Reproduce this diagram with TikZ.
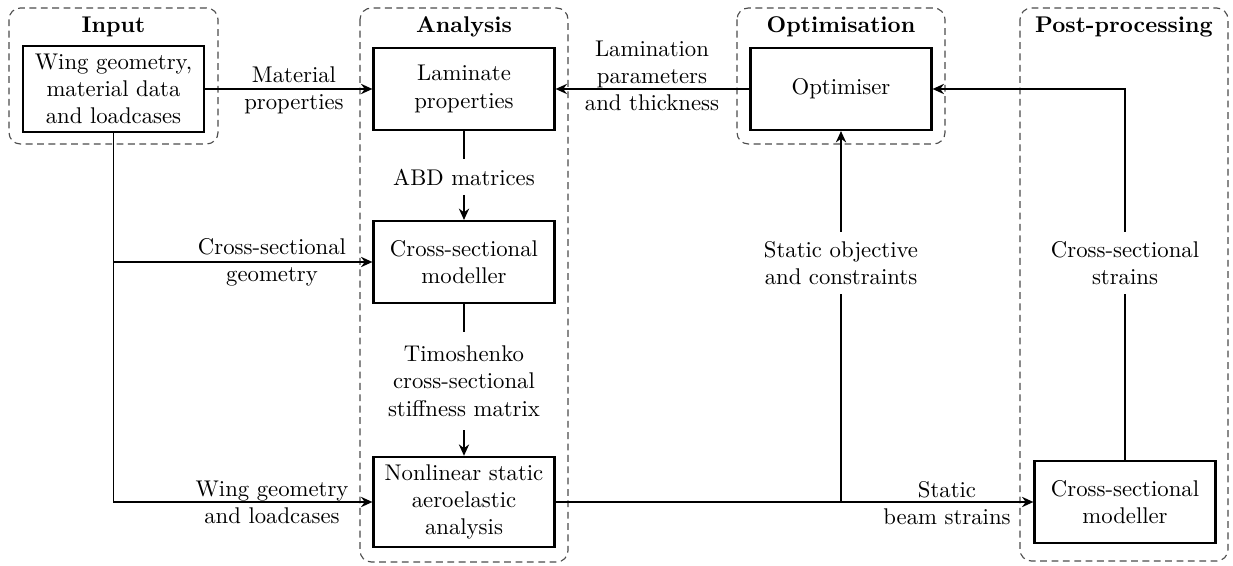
\documentclass[tikz,border=0pt]{standalone}
\usetikzlibrary{arrows.meta}

\tikzset{
  block/.style={draw, line width=1pt, align=center, minimum width=79.6pt, minimum height=36pt},
  group/.style={draw=black!70, line width=0.5pt, dash pattern=on 3pt off 2pt, rounded corners=5pt},
  grouptitle/.style={font=\bfseries},
  lbl/.style={align=center, fill=white, inner ysep=4pt},
  flow/.style={thick, -{Stealth[length=5pt,width=4.5pt]}},
  wire/.style={thick},
}

\begin{document}
\begin{tikzpicture}[x=0.44pt, y=-0.44pt]
\useasboundingbox (0,0) rectangle (1233,566);

% groups
\draw[group] (9,8) rectangle (218,144);
\draw[group] (360,8) rectangle (568,562);
\draw[group] (737,8) rectangle (945,144);
\draw[group] (1020,8) rectangle (1228,561);

\node[grouptitle] (tinput) at (113.5,27) {Input};
\node[grouptitle] (tanalysis) at (464,27) {Analysis};
\node[grouptitle] (toptim) at (841,27) {Optimisation};
\node[grouptitle] (tpost) at (1124,27) {Post-processing};

% blocks
\node[block] (input) at (113.5,89) {Wing geometry,\\material data\\and loadcases};
\node[block] (laminate) at (464,89) {Laminate\\properties};
\node[block] (csmodel) at (464,262) {Cross-sectional\\modeller};
\node[block] (nonlin) at (464,502) {Nonlinear static\\aeroelastic\\analysis};
\node[block] (optimiser) at (841,89) {Optimiser};
\node[block] (cspost) at (1125,502) {Cross-sectional\\modeller};

% labels
\node[lbl] (abd) at (464,177) {ABD matrices};
\node[lbl, inner ysep=6pt] (timo) at (464,381) {Timoshenko\\cross-sectional\\stiffness matrix};
\node[lbl] (objective) at (841,263) {Static objective\\and constraints};
\node[lbl] (strains) at (1125,263) {Cross-sectional\\strains};
\node[align=center] (matprop) at (294,90) {Material\\properties};
\node[align=center] (lampar) at (652,76) {Lamination\\parameters\\and thickness};
\node[align=center] (csgeom) at (272,262) {Cross-sectional\\geometry};
\node[align=center] (wingload) at (272,502) {Wing geometry\\and loadcases};
\node[align=center] (beamstr) at (947,503) {Static\\beam strains};

% connectors
\coordinate (split) at (optimiser.south |- nonlin.east);
\draw[flow] (input) -- (laminate);
\draw[flow] (optimiser) -- (laminate);
\draw[flow] (input.south) |- (csmodel.west);
\draw[flow] (input.south) |- (nonlin.west);
\draw[wire] (laminate) -- (abd);
\draw[flow] (abd) -- (csmodel);
\draw[wire] (csmodel) -- (timo);
\draw[flow] (timo) -- (nonlin);
\draw[flow] (nonlin) -- (cspost);
\draw[wire] (split) -- (objective);
\draw[flow] (objective) -- (optimiser);
\draw[wire] (cspost) -- (strains);
\draw[flow] (strains) |- (optimiser);

\end{tikzpicture}
\end{document}
